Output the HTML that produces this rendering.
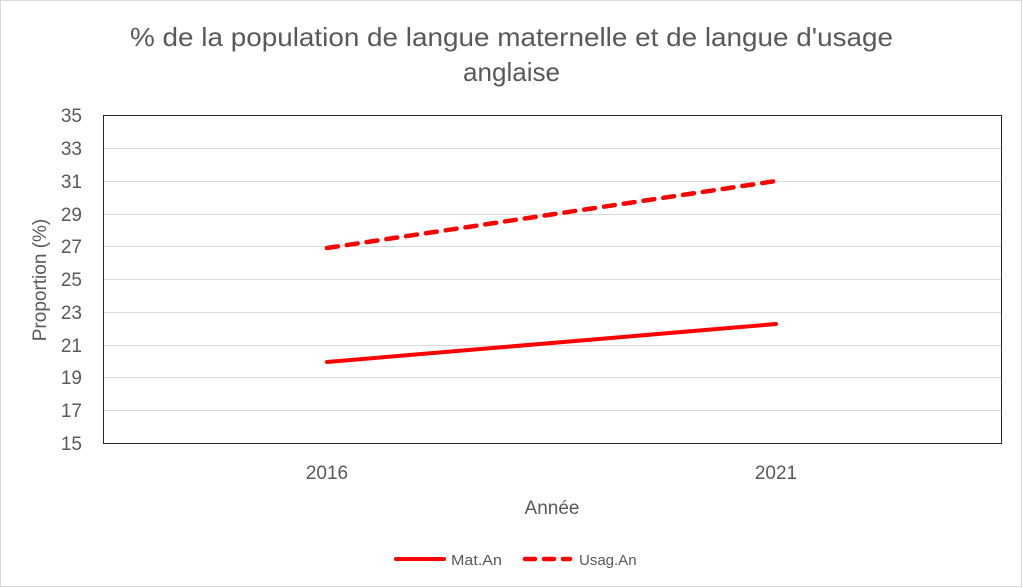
<!DOCTYPE html>
<html><head><meta charset="utf-8"><style>
html,body{margin:0;padding:0;background:#fff;}
svg{display:block;font-family:"Liberation Sans",sans-serif;}
</style></head><body>
<svg width="1023" height="588" viewBox="0 0 1023 588" xmlns="http://www.w3.org/2000/svg">
<rect x="0.5" y="0.5" width="1021" height="586" fill="#fff" stroke="#d9d9d9"/>
<text x="130" y="46" font-size="26" fill="#595959" textLength="763" lengthAdjust="spacingAndGlyphs">% de la population de langue maternelle et de langue d'usage</text>
<text x="463" y="81" font-size="26" fill="#595959" textLength="97" lengthAdjust="spacingAndGlyphs">anglaise</text>
<g stroke="#d9d9d9" stroke-width="1">
<line x1="103" x2="1001" y1="148.5" y2="148.5"/>
<line x1="103" x2="1001" y1="181.5" y2="181.5"/>
<line x1="103" x2="1001" y1="214.5" y2="214.5"/>
<line x1="103" x2="1001" y1="246.5" y2="246.5"/>
<line x1="103" x2="1001" y1="279.5" y2="279.5"/>
<line x1="103" x2="1001" y1="312.5" y2="312.5"/>
<line x1="103" x2="1001" y1="345.5" y2="345.5"/>
<line x1="103" x2="1001" y1="377.5" y2="377.5"/>
<line x1="103" x2="1001" y1="410.5" y2="410.5"/>
<line x1="103" x2="1001" y1="443.5" y2="443.5"/>
</g>
<rect x="103.5" y="115.5" width="898" height="328" fill="none" stroke="#262626" stroke-width="1"/>
<g font-size="19" fill="#595959" text-anchor="end">
<text x="82" y="122">35</text><text x="82" y="155">33</text><text x="82" y="188">31</text>
<text x="82" y="221">29</text><text x="82" y="253">27</text><text x="82" y="286">25</text>
<text x="82" y="319">23</text><text x="82" y="352">21</text><text x="82" y="384">19</text>
<text x="82" y="417">17</text><text x="82" y="450">15</text>
</g>
<g font-size="19" fill="#595959" text-anchor="middle">
<text x="327" y="479">2016</text><text x="776" y="479">2021</text>
<text x="552" y="514">Année</text>
</g>
<text transform="translate(46,280) rotate(-90)" font-size="19" fill="#595959" text-anchor="middle">Proportion (%)</text>
<line x1="327" y1="362" x2="776" y2="324" stroke="#ff0000" stroke-width="4" stroke-linecap="round"/>
<line x1="327" y1="248" x2="776" y2="181" stroke="#ff0000" stroke-width="4.5" stroke-linecap="round" stroke-dasharray="11 9"/>
<line x1="396" y1="559" x2="444" y2="559" stroke="#ff0000" stroke-width="4" stroke-linecap="round"/>
<text x="451" y="565" font-size="15" fill="#595959" textLength="51" lengthAdjust="spacingAndGlyphs">Mat.An</text>
<line x1="525" y1="559" x2="570" y2="559" stroke="#ff0000" stroke-width="4.5" stroke-linecap="round" stroke-dasharray="10 9"/>
<text x="579" y="565" font-size="15" fill="#595959">Usag.An</text>
</svg>
</body></html>
